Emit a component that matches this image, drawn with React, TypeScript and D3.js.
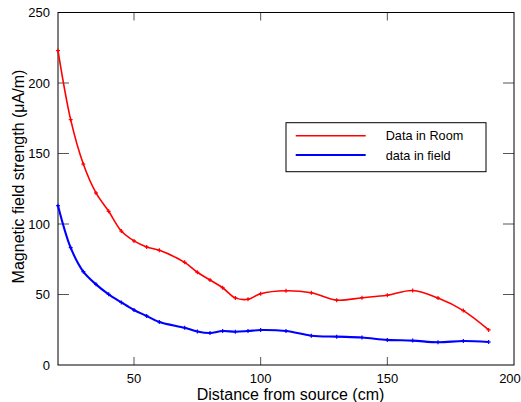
import React from "react";
import * as d3 from "d3";

const roomX = [20, 25, 30, 35, 40, 45, 50, 55, 60, 70, 75, 80, 85, 90, 95, 100, 110, 120, 130, 140, 150, 160, 170, 180, 190];
const roomY = [223, 174, 142.5, 122, 109, 95, 88, 83.7, 81.3, 72.8, 65.8, 60.3, 54.8, 47.6, 46.6, 50.6, 52.7, 51.2, 46, 47.7, 49.5, 52.8, 47.5, 38.6, 24.9];
const fieldX = [20, 25, 30, 35, 40, 45, 50, 55, 60, 70, 75, 80, 85, 90, 95, 100, 110, 120, 130, 140, 150, 160, 170, 180, 190];
const fieldY = [113, 83.2, 66.2, 57.2, 50.1, 44.4, 39, 34.8, 30.5, 26.4, 23.8, 22.7, 24.1, 23.6, 24.1, 24.8, 24.1, 20.8, 20.1, 19.5, 17.8, 17.3, 16.1, 17, 16.3];
const xTicks = [50, 100, 150, 200];
const yTicks = [0, 50, 100, 150, 200, 250];
const legendLabels = ["Data in Room", "data in field"];

const W = 521, H = 402;
const L = 58, R = 514, T = 12.5, B = 365;
const FONT = "'Liberation Sans', Arial, sans-serif";

export default function App() {
  const x = d3.scaleLinear().domain([20, 200]).range([L, R]);
  const y = d3.scaleLinear().domain([0, 250]).range([B, T]);
  const line = d3
    .line<[number, number]>()
    .x((d) => x(d[0]))
    .y((d) => y(d[1]))
    .curve(d3.curveCatmullRom.alpha(0.5));
  const series = [
    { xs: roomX, ys: roomY, color: "#ff0000", w: 1.6 },
    { xs: fieldX, ys: fieldY, color: "#0000ff", w: 2.1 },
  ];
  return (
    <svg width={W} height={H} style={{ position: "absolute", left: 0, top: 0, background: "#fff" }}>
      <rect x={0} y={0} width={W} height={H} fill="#fff" />
      {yTicks.filter((t) => t > 0 && t < 250).map((t) => (
        <g key={"yt" + t} stroke="#555" strokeWidth={1}>
          <line x1={L} x2={L + 11} y1={y(t)} y2={y(t)} />
          <line x1={R} x2={R - 11} y1={y(t)} y2={y(t)} />
        </g>
      ))}
      {xTicks.filter((t) => t < 200).map((t) => (
        <g key={"xt" + t} stroke="#555" strokeWidth={1}>
          <line x1={x(t)} x2={x(t)} y1={B} y2={B - 8} />
          <line x1={x(t)} x2={x(t)} y1={T} y2={T + 8} />
        </g>
      ))}
      <rect x={L} y={T} width={R - L} height={B - T} fill="none" stroke="#000" strokeWidth={1} />
      {yTicks.map((t) => (
        <text key={"yl" + t} x={L - 8} y={y(t)} dy="0.36em" textAnchor="end" fontFamily={FONT} fontSize={13} fill="#000">
          {t}
        </text>
      ))}
      {xTicks.map((t) => (
        <text key={"xl" + t} x={Math.min(x(t), W - 11)} y={383} textAnchor="middle" fontFamily={FONT} fontSize={13} fill="#000">
          {t}
        </text>
      ))}
      <text x={290.5} y={400} textAnchor="middle" fontFamily={FONT} fontSize={16} fill="#000">
        Distance from source (cm)
      </text>
      <text transform={`translate(24,176.5) rotate(-90)`} textAnchor="middle" fontFamily={FONT} fontSize={16} fill="#000">
        Magnetic field strength (μA/m)
      </text>
      {series.map((s, i) => {
        const pts: [number, number][] = s.xs.map((v, j) => [v, s.ys[j]]);
        return (
          <g key={"s" + i}>
            <path d={line(pts) || ""} fill="none" stroke={s.color} strokeWidth={s.w} />
            {pts.map((p, j) => (
              <g key={j} stroke={s.color} strokeWidth={1.2}>
                <line x1={x(p[0]) - 2} x2={x(p[0]) + 2} y1={y(p[1])} y2={y(p[1])} />
                <line x1={x(p[0])} x2={x(p[0])} y1={y(p[1]) - 2} y2={y(p[1]) + 2} />
              </g>
            ))}
          </g>
        );
      })}
      <rect x={286} y={122.7} width={200} height={49} fill="#fff" stroke="#000" strokeWidth={1} />
      {legendLabels.map((lab, i) => (
        <g key={"lg" + i}>
          <line x1={295.7} x2={365.7} y1={135.7 + i * 19.3} y2={135.7 + i * 19.3} stroke={series[i].color} strokeWidth={series[i].w} />
          <text x={385.7} y={135.7 + i * 19.3} dy="0.36em" fontFamily={FONT} fontSize={12.7} fill="#000">
            {lab}
          </text>
        </g>
      ))}
    </svg>
  );
}
